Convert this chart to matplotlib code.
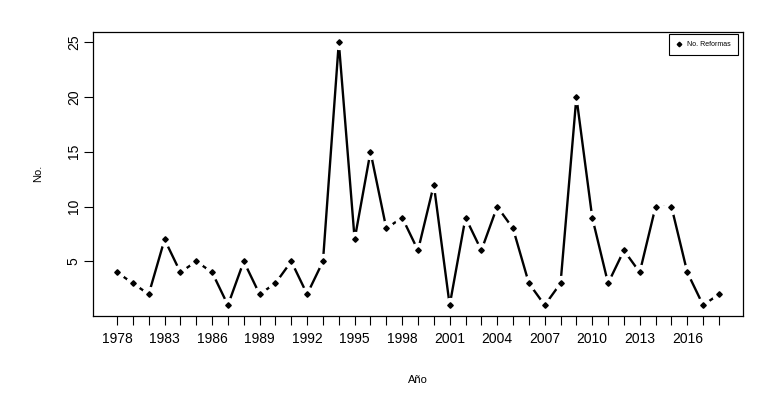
import numpy as np
import matplotlib
matplotlib.use("Agg")
import matplotlib.pyplot as plt
from matplotlib.lines import Line2D

# -------------------------------------------------------------
# Data: reforms per year
# -------------------------------------------------------------
years = [1978, 1980, 1982] + list(range(1983, 2019))
reformas = [4, 3, 2, 7, 4, 5, 4, 1, 5, 2, 3, 5, 2, 5, 25, 7, 15, 8, 9, 6,
            12, 1, 9, 6, 10, 8, 3, 1, 3, 20, 9, 3, 6, 4, 10, 10, 4, 1, 2]
y_ticks = [5, 10, 15, 20, 25]

plt.rcParams["font.family"] = ["Liberation Sans", "DejaVu Sans"]

idx = np.arange(len(years))

fig = plt.figure(figsize=(7.8, 4.03), dpi=100)
ax = fig.add_axes([0.1192, 0.2166, 0.8334, 0.7047])

# type = "b": line, white halo to leave gaps, then the points
ax.plot(idx, reformas, color="black", linewidth=1.7, zorder=1)
ax.plot(idx, reformas, linestyle="none", marker="o", markersize=10,
        markerfacecolor="white", markeredgecolor="white", zorder=2)
ax.plot(idx, reformas, linestyle="none", marker="D", markersize=2.8,
        color="black", zorder=3)

pad_x = 0.04 * (idx[-1] - idx[0])
pad_y = 0.04 * (max(reformas) - min(reformas))
ax.set_xlim(idx[0] - pad_x, idx[-1] + pad_x)
ax.set_ylim(min(reformas) - pad_y, max(reformas) + pad_y)

ax.set_xticks(idx)
ax.set_xticklabels([str(y) if i % 3 == 0 else "" for i, y in enumerate(years)])
ax.set_yticks(y_ticks)
ax.set_yticklabels([str(v) for v in y_ticks], rotation=90, va="center")

ax.tick_params(axis="both", direction="out", length=6.3, width=0.8,
               labelsize=10)
ax.tick_params(axis="x", pad=5.5)
ax.tick_params(axis="y", pad=2.5)
for s in ax.spines.values():
    s.set_linewidth(0.9)

ax.set_xlabel("Año", fontsize=8, labelpad=21)
ax.set_ylabel("No.", fontsize=8, labelpad=17)

handle = Line2D([], [], linestyle="none", marker="D", markersize=2.3,
                color="black")
leg = ax.legend([handle], ["No. Reformas"], loc="upper right",
                bbox_to_anchor=(0.9915, 0.992), fontsize=5,
                fancybox=False, framealpha=1, edgecolor="black",
                handlelength=1.0, handletextpad=0.6, borderpad=1.0,
                borderaxespad=0)
leg.get_frame().set_linewidth(0.8)

fig.savefig("out.png", dpi=100)
